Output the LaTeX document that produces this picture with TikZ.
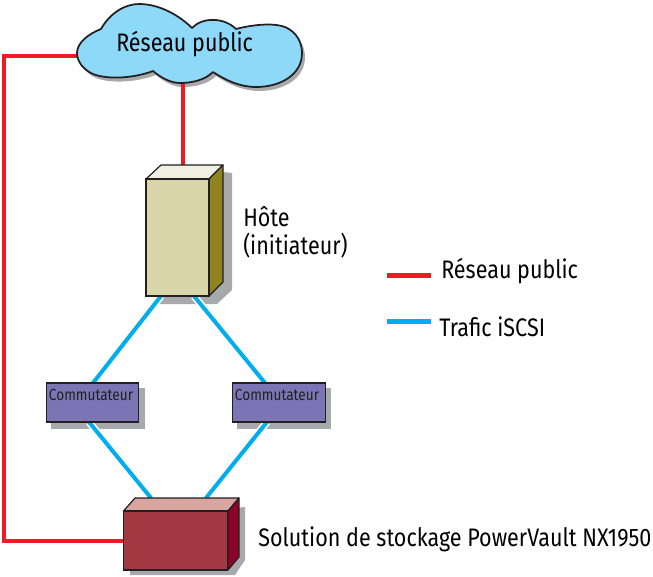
\documentclass[tikz,border=0pt]{standalone}
\usepackage{fontspec}
\setmainfont[FakeStretch=0.85]{Fira Sans}
\definecolor{redline}{HTML}{ED1C24}
\definecolor{blueline}{HTML}{00AEEF}
\definecolor{shadowgrey}{HTML}{A7A9AC}
\definecolor{cloudblue}{HTML}{8ED8F8}
\definecolor{edgeblack}{HTML}{231F20}
\definecolor{hostfront}{HTML}{D9D6AC}
\definecolor{hosttop}{HTML}{F1EFE2}
\definecolor{hostside}{HTML}{8F8420}
\definecolor{switchfill}{HTML}{7B74B5}
\definecolor{storefront}{HTML}{A23841}
\definecolor{storetop}{HTML}{D8A5A0}
\definecolor{storeside}{HTML}{8C0329}
\tikzset{
  x=0.75pt,y=-0.75pt,
  shadowshape/.style={fill=shadowgrey,draw=none},
  edgeline/.style={draw=edgeblack,line width=0.9pt,line join=round},
  boxnode/.style={rectangle,draw=edgeblack,line width=0.9pt,inner sep=0pt,outer sep=0pt},
  hostbox/.style={boxnode,fill=hostfront,minimum width=47.25pt,minimum height=87.75pt},
  switchbox/.style={boxnode,fill=switchfill,minimum width=69.5pt,minimum height=29.25pt},
  storebox/.style={boxnode,fill=storefront,minimum width=78pt,minimum height=44.25pt},
  redwire/.style={draw=redline,line width=3pt,line join=miter},
  bluewire/.style={draw=blueline,line width=3pt},
  legendwire/.style={line width=3.75pt},
  halo/.style={draw=white,line width=5.5pt},
  label/.style={inner sep=0pt,anchor=base west,text=black,font=\fontsize{19}{22}\selectfont},
  smalllabel/.style={inner sep=0pt,anchor=base,text=edgeblack,font=\fontsize{12}{13}\selectfont},
}
\begin{document}
\begin{tikzpicture}
\useasboundingbox (0,0) rectangle (653,576);
\def\cloudpath{(77,53) .. controls (77,43) and (88,34) .. (101,29)
  .. controls (110,13) and (125,4) .. (139,4)
  .. controls (160,4) and (180,16) .. (192,28)
  .. controls (202,17) and (224,17) .. (236,29)
  .. controls (255,24) and (275,23) .. (285,27)
  .. controls (297,32) and (302,43) .. (302,53)
  .. controls (302,75) and (280,87) .. (256,87)
  .. controls (240,87) and (225,80) .. (213,72)
  .. controls (205,80) and (192,83) .. (180,83)
  .. controls (170,83) and (160,77) .. (153,71)
  .. controls (135,78) and (108,80) .. (93,74)
  .. controls (84,70) and (77,62) .. (77,53) -- cycle}
% shadows
\fill[shadowshape,xshift=2.25pt,yshift=-3pt] \cloudpath;
\fill[shadowshape] (161,165) -- (232,173) -- (232,290) -- (217,304) -- (160,304) -- cycle;
\fill[shadowshape] (51,388) rectangle (145,429);
\fill[shadowshape] (237,388) rectangle (331,429);
\fill[shadowshape] (130,520) -- (245,507) -- (245,560) -- (235,575) -- (130,575) -- cycle;
% anchors
\node[hostbox] (host) at (177.5,237.5) {};
\node[switchbox] (swa) at (92.5,402.5) {};
\node[switchbox] (swb) at (279,402.5) {};
\node[storebox] (store) at (175.5,540.5) {};
\coordinate (cloudleft) at (78,55.5);
\coordinate (cloudbottom) at (183,82);
\coordinate (hosttopc) at (183,166);
\coordinate (hostbl) at (161,296);
\coordinate (hostbr) at (194,296);
\coordinate (swat) at (93,383);
\coordinate (swbt) at (265,383);
\coordinate (swab) at (89,422);
\coordinate (swbb) at (267,422);
\coordinate (storel) at (151,498);
\coordinate (storer) at (206,498);
\coordinate (redcorna) at (3.5,55.5);
\coordinate (redcornb) at (3.5,541);
\coordinate (storewest) at (124,541);
% wires
\draw[halo] (hostbl) -- (swat);
\draw[halo] (hostbr) -- (swbt);
\draw[halo] (swab) -- (storel);
\draw[halo] (swbb) -- (storer);
\draw[bluewire] (hostbl) -- (swat);
\draw[bluewire] (hostbr) -- (swbt);
\draw[bluewire] (swab) -- (storel);
\draw[bluewire] (swbb) -- (storer);
\draw[redwire] (cloudbottom) -- (hosttopc);
\draw[redwire] (cloudleft) -- (redcorna) -- (redcornb) -- (storewest);
% cloud
\draw[edgeline,fill=cloudblue,line width=1.3pt] \cloudpath;
% host
\draw[edgeline,fill=hosttop] (146,179) -- (161,165) -- (223,165) -- (209,179) -- cycle;
\draw[edgeline,fill=hostside] (209,179) -- (223,165) -- (223,282) -- (209,296) -- cycle;
\node[hostbox] at (host) {};
% switches
\node[switchbox] at (swa) {};
\node[switchbox] at (swb) {};
\node[smalllabel] (swalabel) at (91,400) {Commutateur};
\node[smalllabel] (swblabel) at (277,400) {Commutateur};
% storage
\draw[edgeline,fill=storetop] (123.5,511) -- (135,498) -- (239,498) -- (228,511) -- cycle;
\draw[edgeline,fill=storeside] (228,511) -- (239,498) -- (239,557) -- (228,570) -- cycle;
\node[storebox] at (store) {};
% labels
\node[label] (cloudlabel) at (116,51) {Réseau public};
\node[label] (hostlabel1) at (243,226) {Hôte};
\node[label] (hostlabel2) at (243,254) {(initiateur)};
\node[label] (storelabel) at (258,546) {Solution de stockage PowerVault NX1950};
\node[label] (legredlabel) at (441,278) {Réseau public};
\node[label] (legbluelabel) at (439,336) {Trafic iSCSI};
% legend
\coordinate (lra) at (387,275); \coordinate (lrb) at (431,275);
\coordinate (lba) at (387,321); \coordinate (lbb) at (431,321);
\draw[redwire,legendwire] (lra) -- (lrb);
\draw[bluewire,legendwire] (lba) -- (lbb);
\end{tikzpicture}
\end{document}
